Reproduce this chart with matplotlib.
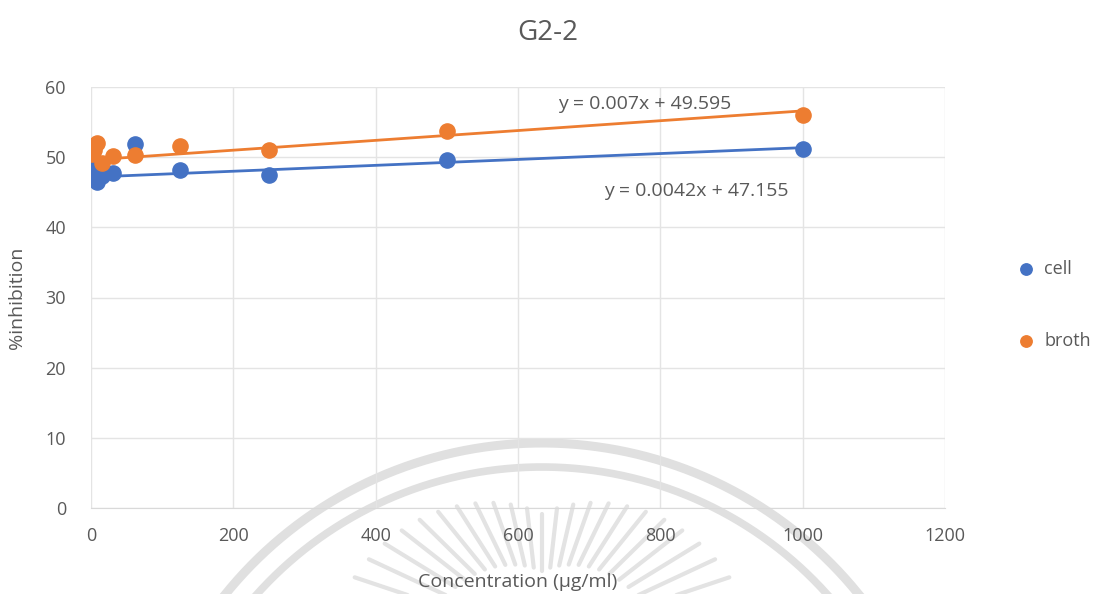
import numpy as np
import matplotlib.pyplot as plt

plt.rcParams['font.family'] = ['Open Sans', 'DejaVu Sans']

conc = [1000, 500, 250, 125, 62.5, 31.25, 15.625, 7.8125, 3.90625, 1.953125, 0.9765625]
cell = [51.2, 49.6, 47.4, 48.2, 51.9, 47.7, 47.3, 46.5, 47.0, 48.2, 49.4]
broth = [56.0, 53.7, 51.0, 51.6, 50.3, 50.1, 49.2, 52.0, 51.0, 50.6, 50.5]

# trendline coefficients (slope, intercept)
cell_fit = (0.0042, 47.155)
broth_fit = (0.007, 49.595)

blue = '#4472C4'
orange = '#ED7D31'
txt = '#595959'
W, H = 1095, 594

fig = plt.figure(figsize=(10.95, 5.94), dpi=100)

# faint seal in the background, in pixel coordinates
bg = fig.add_axes([0, 0, 1, 1], zorder=0)
bg.set_xlim(0, W)
bg.set_ylim(H, 0)
bg.axis('off')
t = np.linspace(0, 2*np.pi, 500)
for r, lw in [(407, 6.5), (383, 5.5)]:
    bg.plot(542 + r*np.cos(t), 850 + r*np.sin(t), color='#e0e0e0', lw=lw)
for a in np.linspace(192, 348, 25):
    rad = np.deg2rad(a)
    r1 = 126 + 1.0*abs(a - 270)
    r0 = 0.55*r1
    bg.plot([542 + r0*np.cos(rad), 542 + r1*np.cos(rad)],
            [640 + r0*np.sin(rad), 640 + r1*np.sin(rad)], color='#e3e3e3', lw=3,
            solid_capstyle='round')

ax = fig.add_axes([91/W, 1-508/H, (945-91)/W, (508-87)/H], zorder=1)
ax.patch.set_alpha(0)

xs = np.array([min(conc), max(conc)])
ax.plot(xs, cell_fit[0]*xs + cell_fit[1], color=blue, lw=2, zorder=2)
ax.plot(xs, broth_fit[0]*xs + broth_fit[1], color=orange, lw=2, zorder=2)
ax.scatter(conc, cell, s=120, color=blue, zorder=3, label='cell')
ax.scatter(conc, broth, s=120, color=orange, zorder=3, label='broth')

ax.set_xlim(0, 1200)
ax.set_ylim(0, 60)
ax.set_xticks(range(0, 1201, 200))
ax.set_yticks(range(0, 61, 10))
ax.grid(True, color='#e4e4e4', lw=1)
ax.set_axisbelow(True)
for s in ['top', 'right', 'left']:
    ax.spines[s].set_visible(False)
ax.spines['bottom'].set_color('#d9d9d9')
ax.tick_params(axis='x', length=0, colors=txt, labelsize=13, pad=14)
ax.tick_params(axis='y', length=0, colors=txt, labelsize=13, pad=18)

ax.set_xlabel('Concentration (µg/ml)', color=txt, fontsize=14, labelpad=20)
ax.set_ylabel('%inhibition', color=txt, fontsize=14)
ax.yaxis.set_label_coords(-(91-26)/(945-91), 0.5)
fig.text(548/W, 1-33/H, 'G2-2', ha='center', va='center', fontsize=20, color=txt)

ax.text(778, 57.6, 'y = 0.007x + 49.595', ha='center', va='center', fontsize=14, color=txt)
ax.text(851, 45.2, 'y = 0.0042x + 47.155', ha='center', va='center', fontsize=14, color=txt)

ax.legend(loc='center left', bbox_to_anchor=(1008/W, 1-305/H), bbox_transform=fig.transFigure,
          frameon=False, fontsize=13, labelcolor=txt, handletextpad=0.0,
          labelspacing=3.0, markerscale=0.75, borderaxespad=0, borderpad=0)

fig.savefig('out.png', dpi=100)
